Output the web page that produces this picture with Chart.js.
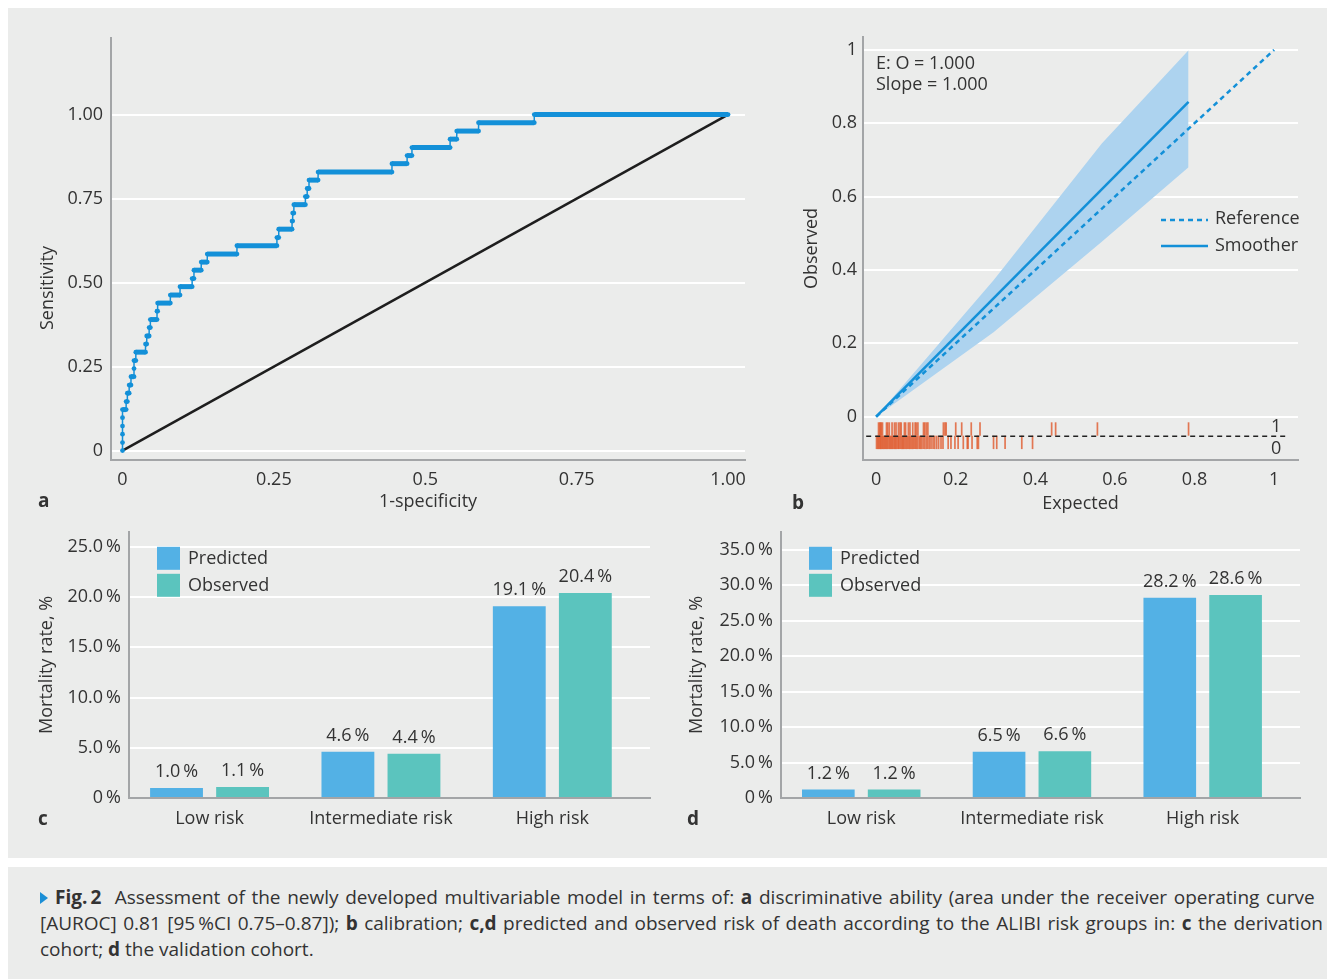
<!DOCTYPE html>
<html>
<head>
<meta charset="utf-8">
<script src="https://cdn.jsdelivr.net/npm/chart.js@4.4.1/dist/chart.umd.min.js"></script>
<style>
  body { margin: 0; width: 1327px; height: 979px; background: #fff; position: relative; overflow: hidden;
         font-family: 'Open Sans', sans-serif; color: #333; }
  #fig { position: absolute; left: 8px; top: 8px; width: 1319px; height: 850px; background: #ebeceb; }
  #cap { position: absolute; left: 8px; top: 867px; width: 1319px; height: 112px; background: #ebeceb; }
  canvas { position: absolute; }
  .tag { position: absolute; font-weight: bold; font-size: 19px; line-height: 20px; }
  .cl { position: absolute; left: 32px; white-space: nowrap; font-size: 19px; line-height: 26px; color: #333; }
  .tri { display: inline-block; width: 0; height: 0; border-left: 8px solid #1b8fd6;
         border-top: 6px solid transparent; border-bottom: 6px solid transparent; margin-right: 7px; }
</style>
</head>
<body>
<div id="fig"></div>
<div id="cap">
  <div class="cl" style="top:17px"><span id="l1"><span class="tri"></span><b>Fig.&#8201;2</b>&nbsp; Assessment of the newly developed multivariable model in terms of: <b>a</b> discriminative ability (area under the receiver operating curve</span></div>
  <div class="cl" style="top:43px"><span id="l2">[AUROC] 0.81 [95&#8201;%CI 0.75–0.87]); <b>b</b> calibration; <b>c,d</b> predicted and observed risk of death according to the ALIBI risk groups in: <b>c</b> the derivation</span></div>
  <div class="cl" style="top:69px"><span id="l3">cohort; <b>d</b> the validation cohort.</span></div>
</div>

<canvas id="chartA" width="760" height="510" style="left:8px;top:8px"></canvas>
<canvas id="chartB" width="547" height="510" style="left:780px;top:8px"></canvas>
<canvas id="chartC" width="660" height="327" style="left:8px;top:513px"></canvas>
<canvas id="chartD" width="640" height="327" style="left:680px;top:513px"></canvas>

<div class="tag" style="left:38px;top:490px">a</div>
<div class="tag" style="left:792px;top:492px">b</div>
<div class="tag" style="left:38px;top:808px">c</div>
<div class="tag" style="left:687px;top:808px">d</div>

<script>
// ---- panel a: ROC curve
const rocFpr = [0, 0, 0, 0, 0, 0, 0.006, 0.006, 0.008, 0.008, 0.011, 0.011, 0.014, 0.014, 0.019, 0.019, 0.019,
  0.022, 0.022, 0.038, 0.038, 0.040, 0.040, 0.044, 0.044, 0.046, 0.046, 0.057, 0.057, 0.058, 0.058,
  0.079, 0.079, 0.095, 0.095, 0.115, 0.115, 0.118, 0.118, 0.130, 0.130, 0.140, 0.140, 0.189, 0.189,
  0.255, 0.255, 0.258, 0.258, 0.280, 0.280, 0.281, 0.281, 0.283, 0.283, 0.302, 0.302, 0.305, 0.305,
  0.308, 0.308, 0.323, 0.323, 0.445, 0.445, 0.470, 0.470, 0.478, 0.478, 0.541, 0.541, 0.552, 0.552,
  0.588, 0.588, 0.680, 0.680, 1.000];
const rocTpr = [0, 0.024, 0.049, 0.073, 0.098, 0.122, 0.122, 0.146, 0.146, 0.171, 0.171, 0.195, 0.195, 0.220, 0.220, 0.244, 0.268,
  0.268, 0.293, 0.293, 0.317, 0.317, 0.341, 0.341, 0.366, 0.366, 0.390, 0.390, 0.415, 0.415, 0.439,
  0.439, 0.463, 0.463, 0.488, 0.488, 0.512, 0.512, 0.537, 0.537, 0.561, 0.561, 0.585, 0.585, 0.610,
  0.610, 0.634, 0.634, 0.659, 0.659, 0.683, 0.683, 0.707, 0.707, 0.732, 0.732, 0.756, 0.756, 0.780,
  0.780, 0.805, 0.805, 0.829, 0.829, 0.854, 0.854, 0.878, 0.878, 0.902, 0.902, 0.927, 0.927, 0.951,
  0.951, 0.976, 0.976, 1.000, 1.000];
const chanceX = [0, 1];
const chanceY = [0, 1];
const rocXTicks = ['0', '0.25', '0.5', '0.75', '1.00'];
const rocYTicks = ['0', '0.25', '0.50', '0.75', '1.00'];

// ---- panel b: calibration
const refX = [0, 1];
const refY = [0, 1];
const smoothX = [0, 0.785];
const smoothY = [0, 0.858];
const bandX = [0, 0.295, 0.567, 0.785];
const bandUpper = [0, 0.372, 0.745, 0.999];
const bandLower = [0, 0.230, 0.477, 0.680];
const rugEvents = [0.006, 0.009, 0.011, 0.013, 0.016, 0.026, 0.029, 0.033, 0.040, 0.046, 0.050, 0.056, 0.060, 0.063,
  0.071, 0.074, 0.081, 0.085, 0.092, 0.098, 0.101, 0.105, 0.119, 0.122, 0.126, 0.130, 0.169, 0.173, 0.176,
  0.200, 0.215, 0.239, 0.261, 0.441, 0.451, 0.556, 0.785];
const rugNonEvents = [0.001, 0.004, 0.006, 0.009, 0.011, 0.013, 0.016, 0.018, 0.021, 0.023, 0.026, 0.028, 0.031,
  0.034, 0.036, 0.039, 0.041, 0.044, 0.047, 0.049, 0.052, 0.055, 0.057, 0.060, 0.063, 0.066, 0.068, 0.071,
  0.074, 0.077, 0.080, 0.083, 0.086, 0.089, 0.092, 0.095, 0.098, 0.101, 0.104, 0.108, 0.111, 0.114, 0.118,
  0.122, 0.126, 0.130, 0.134, 0.138, 0.143, 0.147, 0.152, 0.157, 0.163, 0.168, 0.181, 0.188, 0.198, 0.206,
  0.219, 0.229, 0.231, 0.241, 0.254, 0.257, 0.295, 0.303, 0.324, 0.366, 0.393];
const rugLineX = [-0.025, 1.028];
const calTicks = ['0', '0.2', '0.4', '0.6', '0.8', '1'];

// ---- panels c, d: risk groups
const groups = ['Low risk', 'Intermediate risk', 'High risk'];
const predictedC = [1.0, 4.6, 19.1];
const observedC = [1.1, 4.4, 20.4];
const predictedD = [1.2, 6.5, 28.2];
const observedD = [1.2, 6.6, 28.6];

const BLUE = '#1390d8';
const AXIS = '#a3a5a7';
const GRID = '#ffffff';
const PCT = '\u2009%';
const FONT = "'Open Sans', sans-serif";

Chart.defaults.font.family = FONT;
Chart.defaults.font.size = 18;
Chart.defaults.color = '#333';
Chart.defaults.animation = false;
Chart.defaults.responsive = false;
Chart.defaults.events = [];
Chart.defaults.plugins.legend.display = false;
Chart.defaults.plugins.tooltip.enabled = false;

const pts = (xs, ys) => xs.map((x, i) => ({ x, y: ys[i] }));

// free text drawn inside a chart, placed relative to its plot area
const notes = {
  id: 'notes',
  afterDraw(chart, args, opts) {
    const { ctx, chartArea: a } = chart;
    ctx.save();
    ctx.font = '18px ' + FONT;
    ctx.fillStyle = '#333';
    ctx.textBaseline = 'middle';
    (opts.items || []).forEach(t => {
      ctx.save();
      ctx.translate(a.left + t.dx, t.fromBottom ? a.bottom + t.dy : a.top + t.dy);
      if (t.rotate) ctx.rotate(t.rotate);
      ctx.textAlign = t.align || 'left';
      ctx.fillText(t.text, 0, 0);
      ctx.restore();
    });
    (opts.lines || []).forEach(l => {
      ctx.strokeStyle = BLUE;
      ctx.lineWidth = 2.5;
      ctx.setLineDash(l.dash || []);
      ctx.beginPath();
      ctx.moveTo(a.right + l.x0, a.top + l.y);
      ctx.lineTo(a.right + l.x1, a.top + l.y);
      ctx.stroke();
    });
    ctx.restore();
  }
};

new Chart(document.getElementById('chartA'), {
  type: 'line',
  data: {
    datasets: [
      {
        data: pts(rocFpr, rocTpr),
        borderColor: BLUE, backgroundColor: BLUE,
        borderWidth: 1.5, pointRadius: 2.4, pointBorderWidth: 0,
        segment: { borderWidth: c => (c.p0.parsed.y === c.p1.parsed.y ? 5 : 1.5) }
      },
      { data: pts(chanceX, chanceY), borderColor: '#1e1e1e', borderWidth: 2.5, pointRadius: 0 }
    ]
  },
  options: {
    layout: { padding: { top: 30, right: 23 } },
    plugins: {
      notes: { items: [{ text: 'Sensitivity', dx: -63, dy: -172, fromBottom: true, rotate: -Math.PI / 2, align: 'center' }] }
    },
    scales: {
      x: {
        type: 'linear', min: -0.019, max: 1.028,
        afterFit: s => { s.height = 58; },
        grid: { display: false }, border: { color: AXIS, width: 2 },
        ticks: { stepSize: 0.25, includeBounds: false, padding: 1, maxRotation: 0, callback: (v, i) => rocXTicks[i] },
        title: { display: true, text: '1-specificity', padding: { bottom: 5 } }
      },
      y: {
        type: 'linear', min: -0.028, max: 1.228,
        afterFit: s => { s.width = 103; },
        grid: { color: GRID, lineWidth: 2, drawTicks: false }, border: { color: AXIS, width: 2 },
        ticks: { stepSize: 0.25, includeBounds: false, padding: 8, callback: (v, i) => rocYTicks[i] }
      }
    }
  },
  plugins: [notes]
});

const rug = (xs, yc, color) => ({
  data: xs.map(x => ({ x, y: yc })), showLine: false,
  pointStyle: 'line', pointRotation: 90, pointRadius: 6.7,
  pointBorderColor: color, pointBorderWidth: 1.7, borderColor: color
});

const rugLabels = {
  id: 'rugLabels',
  afterDraw(chart) {
    const { ctx, scales: { x, y } } = chart;
    ctx.save();
    ctx.font = '18px ' + FONT;
    ctx.fillStyle = '#333';
    ctx.textAlign = 'center';
    ctx.textBaseline = 'middle';
    ctx.fillText('1', x.getPixelForValue(1.005), y.getPixelForValue(-0.028));
    ctx.fillText('0', x.getPixelForValue(1.005), y.getPixelForValue(-0.088));
    ctx.restore();
  }
};

new Chart(document.getElementById('chartB'), {
  type: 'line',
  data: {
    datasets: [
      { data: pts(smoothX, smoothY), borderColor: BLUE, borderWidth: 2.5, pointRadius: 0 },
      { data: pts(refX, refY), borderColor: BLUE, borderWidth: 2.5, borderDash: [5, 4], pointRadius: 0 },
      { data: rugLineX.map(x => ({ x, y: -0.053 })), borderColor: '#222', borderWidth: 1.5, borderDash: [5, 4], pointRadius: 0 },
      rug(rugEvents, -0.0335, 'rgba(224,90,45,0.8)'),
      rug(rugNonEvents, -0.070, 'rgba(224,90,45,0.8)'),
      { data: pts(bandX, bandUpper), borderWidth: 0, pointRadius: 0, fill: '+1', backgroundColor: '#add3ef' },
      { data: pts(bandX, bandLower), borderWidth: 0, pointRadius: 0 }
    ]
  },
  options: {
    layout: { padding: { top: 29, right: 29 } },
    plugins: {
      notes: {
        items: [
          { text: 'E: O = 1.000', dx: 13, dy: 27 },
          { text: 'Slope = 1.000', dx: 13, dy: 48 },
          { text: 'Reference', dx: 352, dy: 182 },
          { text: 'Smoother', dx: 352, dy: 209 }
        ],
        lines: [
          { x0: -137, x1: -90, y: 183, dash: [5, 4] },
          { x0: -137, x1: -90, y: 209 }
        ]
      }
    },
    scales: {
      x: {
        type: 'linear', min: -0.033, max: 1.06,
        afterFit: s => { s.height = 58; },
        grid: { display: false }, border: { color: AXIS, width: 2 },
        ticks: { stepSize: 0.2, includeBounds: false, padding: 1, maxRotation: 0, callback: (v, i) => calTicks[i] },
        title: { display: true, text: 'Expected', padding: { bottom: 3 } }
      },
      y: {
        type: 'linear', min: -0.118, max: 1.035,
        afterFit: s => { s.width = 83; },
        grid: { color: GRID, lineWidth: 2, drawTicks: false }, border: { color: AXIS, width: 2 },
        ticks: { stepSize: 0.2, includeBounds: false, padding: 6, callback: (v, i) => calTicks[i] },
        title: { display: true, text: 'Observed', padding: { top: 21 } }
      }
    }
  },
  plugins: [notes, rugLabels]
});

const barLabels = {
  id: 'barLabels',
  afterDatasetsDraw(chart) {
    const ctx = chart.ctx;
    ctx.save();
    ctx.font = '18px ' + FONT;
    ctx.fillStyle = '#333';
    ctx.textAlign = 'center';
    ctx.textBaseline = 'middle';
    chart.data.datasets.forEach((ds, di) => {
      chart.getDatasetMeta(di).data.forEach((bar, i) => {
        ctx.fillText(ds.data[i].y.toFixed(1) + PCT, bar.x, bar.y - 16);
      });
    });
    ctx.restore();
  }
};

const boxLegend = {
  id: 'boxLegend',
  afterDraw(chart) {
    const { ctx, chartArea: a } = chart;
    ctx.save();
    ctx.font = '18px ' + FONT;
    ctx.textBaseline = 'middle';
    chart.data.datasets.forEach((ds, i) => {
      const top = a.top + 15 + i * 27;
      ctx.fillStyle = ds.backgroundColor;
      ctx.fillRect(a.left + 28, top, 23, 23);
      ctx.fillStyle = '#333';
      ctx.fillText(ds.label, a.left + 59, top + 12);
    });
    ctx.restore();
  }
};

function riskChart(id, pred, obs, yMax, yWidth, yTitlePad, rightPad) {
  return new Chart(document.getElementById(id), {
    type: 'bar',
    data: {
      datasets: [
        { label: 'Predicted', data: pts([0, 1, 2], pred), backgroundColor: '#53b1e5' },
        { label: 'Observed', data: pts([0, 1, 2], obs), backgroundColor: '#5bc4be' }
      ]
    },
    options: {
      layout: { padding: { top: 0, right: rightPad } },
      categoryPercentage: 0.771,
      barPercentage: 0.8,
      scales: {
        x: {
          type: 'linear', min: -0.47, max: 2.57, offset: false,
          afterFit: s => { s.height = 42; },
          afterBuildTicks: s => { s.ticks = groups.map((g, i) => ({ value: i })); },
          grid: { display: false, offset: false }, border: { color: AXIS, width: 2 },
          ticks: { padding: 2, maxRotation: 0, autoSkip: false, callback: v => groups[v] }
        },
        y: {
          min: 0, max: yMax,
          afterFit: s => { s.width = yWidth; },
          grid: { color: GRID, lineWidth: 2, drawTicks: false }, border: { color: AXIS, width: 2 },
          ticks: { stepSize: 5, includeBounds: false, padding: 8,
                   callback: v => (v === 0 ? '0' : v.toFixed(1)) + PCT },
          title: { display: true, text: 'Mortality rate, %', padding: { top: yTitlePad } }
        }
      }
    },
    plugins: [barLabels, boxLegend]
  });
}

riskChart('chartC', predictedC, observedC, 26.5, 121, 28, 18);
riskChart('chartD', predictedD, observedD, 37.5, 101, 6, 20);

// stretch the first two caption lines to the justified width of the original
[['l1', 1273], ['l2', 1283]].forEach(([id, w]) => {
  const el = document.getElementById(id);
  const spaces = (el.textContent.match(/ /g) || []).length;
  const cur = el.getBoundingClientRect().width;
  el.style.wordSpacing = ((w - cur) / spaces) + 'px';
});
</script>
</body>
</html>
